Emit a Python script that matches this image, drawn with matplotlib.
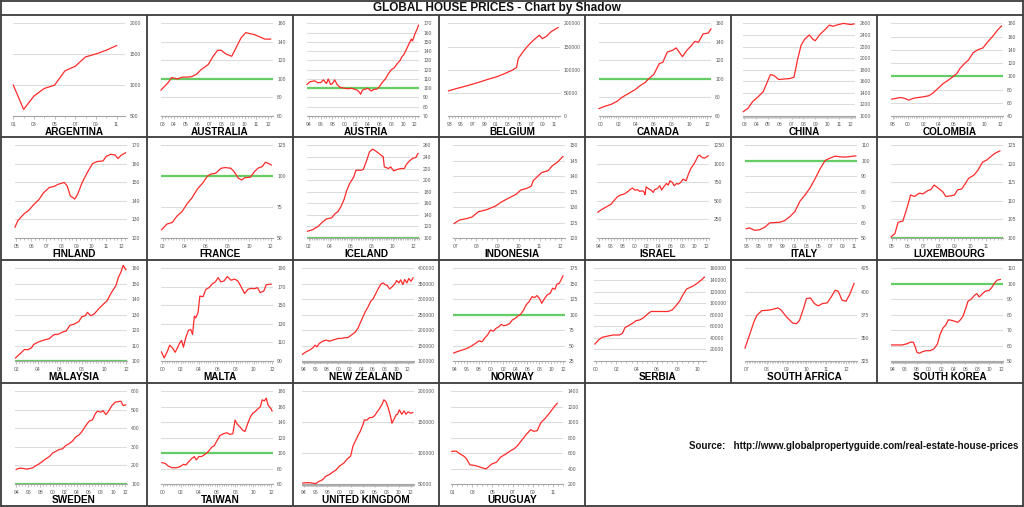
import matplotlib
matplotlib.use('Agg')
import matplotlib.pyplot as plt
from matplotlib.ticker import MultipleLocator

plt.rcParams['font.family'] = ['Liberation Sans', 'DejaVu Sans']

# ---------------- data ----------------
argentina_x = [2001, 2002, 2003, 2004, 2005, 2006, 2007, 2008, 2009, 2010, 2011]
argentina_y = [1000, 607, 823, 946, 1000, 1231, 1306, 1457, 1505, 1565, 1640]

australia_x = [2002.9, 2003.5, 2003.8, 2004.0, 2004.3, 2004.7, 2005.1, 2005.5, 2005.9, 2006.3, 2006.9, 2007.3,
               2007.7, 2008.0, 2008.4, 2008.9, 2009.3, 2009.7, 2010.1, 2010.4, 2010.8, 2011.3, 2011.7, 2012.2]
australia_y = [88, 96, 101.4, 101, 100, 102, 102, 102.5, 105, 110, 115.5, 124,
               131, 131, 127, 124.5, 134.5, 144.6, 150, 149, 148, 145.3, 143, 143]

austria_x = [1993.7, 1994.2, 1995.0, 1995.5, 1996.0, 1996.5, 1997.0, 1997.3, 1997.7, 1998.0, 1998.4, 1998.8,
             1999.3, 2000.0, 2000.7, 2001.2, 2001.7, 2002.2, 2002.6, 2002.8, 2003.1, 2003.6, 2004.0, 2004.4,
             2004.6, 2005.0, 2005.5, 2005.9, 2006.5, 2007.0, 2007.5, 2008.0, 2008.5, 2009.0, 2009.5, 2009.8,
             2010.1, 2010.5, 2011.0, 2011.4, 2011.6, 2012.0, 2012.4, 2012.6]
austria_y = [104, 107, 108, 106, 106, 109, 105, 110, 104, 105, 109, 104,
             101, 100, 99.5, 100, 99, 98, 95.5, 93.5, 98, 99, 100, 98,
             97, 98.5, 99, 101, 106.5, 110, 115.5, 120, 122, 126.5, 130, 134,
             136, 141, 148, 153, 151, 158.5, 164, 168]

belgium_x = [1992.9, 1994.3, 1995.4, 1996.8, 1998.3, 1999.7, 2001.1, 2002.5, 2003.8, 2004.5, 2004.8,
             2005.6, 2006.3, 2007.1, 2007.6, 2008.4, 2008.9, 2009.6, 2010.4, 2011.3, 2011.6]
belgium_y = [54300, 59400, 63000, 68000, 73700, 79500, 84500, 91700, 99000, 104700, 124000,
             138500, 149600, 160000, 166000, 174500, 167000, 172000, 182000, 189000, 191000]

canada_x = [1999.85, 2000.5, 2001.2, 2001.9, 2002.4, 2003.1, 2003.9, 2004.5, 2005.0, 2005.4, 2006.0, 2006.6,
            2007.0, 2007.5, 2008.1, 2008.5, 2009.2, 2009.7, 2010.2, 2010.6, 2011.0, 2011.5, 2012.1, 2012.4]
canada_y = [68, 70.5, 72.5, 76, 80, 84, 88.5, 93, 96, 100, 105, 116.5,
            118, 129, 131, 133.5, 124, 131, 136, 140.6, 139.6, 148.5, 149.6, 154]

china_x = [2002.9, 2003.3, 2003.7, 2004.2, 2004.6, 2004.9, 2005.2, 2005.5, 2005.9, 2006.4, 2006.8, 2007.2, 2007.5,
           2007.8, 2008.1, 2008.5, 2008.8, 2009.0, 2009.4, 2009.8, 2010.2, 2010.5, 2010.9, 2011.4, 2011.7, 2012.0, 2012.3]
china_y = [1075, 1135, 1250, 1340, 1425, 1570, 1715, 1700, 1630, 1640, 1645, 1670, 1975,
           2220, 2325, 2400, 2325, 2300, 2410, 2485, 2570, 2550, 2575, 2600, 2590, 2580, 2590]

colombia_x = [1997.9, 1998.4, 1999.0, 1999.5, 2000.1, 2000.8, 2001.4, 2002.0, 2002.7, 2003.2, 2004.0, 2004.6, 2005.3,
              2005.9, 2006.4, 2006.8, 2007.4, 2007.9, 2008.5, 2009.1, 2009.8, 2010.4, 2011.1, 2011.7, 2012.2]
colombia_y = [65.5, 66.5, 68, 67, 64, 67, 68, 69, 70.5, 74, 82.5, 89, 94.5,
              99.5, 104.5, 112, 119.5, 124.5, 135.5, 140, 143, 152, 161, 170, 176]

finland_x = [2004.9, 2005.1, 2005.5, 2005.8, 2006.2, 2006.5, 2006.8, 2007.2, 2007.5, 2007.8, 2008.2, 2008.4, 2008.6,
             2008.9, 2009.1, 2009.4, 2009.8, 2010.1, 2010.4, 2010.8, 2011.0, 2011.3, 2011.6, 2011.8, 2012.0, 2012.3]
finland_y = [125.9, 129.5, 133, 134.8, 138.4, 140.7, 144.3, 147.3, 147.8, 149, 150, 148, 142.8,
             141, 143.7, 150, 156.2, 160.2, 161.3, 161.6, 164, 165.2, 164.8, 162.9, 164.6, 166]

france_x = [2001.9, 2002.4, 2002.9, 2003.3, 2003.8, 2004.3, 2004.7, 2005.2, 2005.7, 2006.1, 2006.4, 2006.9, 2007.4,
            2007.8, 2008.3, 2008.6, 2009.0, 2009.3, 2009.6, 2010.1, 2010.5, 2010.8, 2011.2, 2011.5, 2011.75, 2012.05]
france_y = [56.7, 61.3, 62.6, 67.5, 71.5, 78.2, 82.3, 89.5, 94.4, 99.7, 101.6, 102.4, 106.5,
            107, 106.5, 103.8, 98.4, 97, 98.9, 99.2, 103.8, 106.5, 107.8, 111.3, 110.5, 109.1]

iceland_x = [2001.9, 2002.4, 2002.9, 2003.3, 2003.7, 2004.2, 2004.5, 2004.8, 2005.1, 2005.4, 2005.6, 2005.9,
             2006.3, 2006.5, 2007.0, 2007.2, 2007.5, 2007.8, 2008.1, 2008.4, 2008.8, 2009.1, 2009.2, 2009.6,
             2009.8, 2010.1, 2010.5, 2010.8, 2011.1, 2011.3, 2011.6, 2011.9, 2012.2, 2012.4]
iceland_y = [111.6, 114.5, 120, 127.2, 133, 134.8, 141.7, 145.8, 155, 167.8, 180.6, 194,
             205.5, 217.1, 217.1, 218.3, 232.8, 249, 253.6, 250, 244.3, 240.3, 222.9, 220,
             222.9, 216, 218.8, 220, 220, 227, 233.4, 237.4, 239.1, 246.1]

indonesia_x = [2006.95, 2007.2, 2007.55, 2007.8, 2008.1, 2008.5, 2008.9, 2009.2, 2009.5, 2009.9,
               2010.1, 2010.4, 2010.6, 2010.7, 2010.9, 2011.1, 2011.4, 2011.6, 2011.85, 2012.1]
indonesia_y = [124.7, 125.8, 126.3, 126.8, 128.5, 129.2, 130.3, 131.7, 132.8, 134.2,
               135.5, 136.1, 136.8, 138.6, 139.9, 141.2, 141.8, 143.4, 144.6, 146.4]

israel_x = [1993.8, 1994.3, 1994.8, 1995.4, 1996.0, 1996.5, 1997.1, 1997.6, 1998.2, 1998.8, 1999.3, 1999.6,
            2000.0, 2000.5, 2000.8, 2001.3, 2001.6, 2001.7, 2001.9, 2002.4, 2002.7, 2003.1, 2003.3, 2003.8,
            2004.2, 2004.5, 2004.9, 2005.3, 2005.6, 2005.9, 2006.3, 2006.6, 2007.0, 2007.3, 2007.7, 2008.1,
            2008.6, 2009.0, 2009.4, 2009.9, 2010.3, 2010.6, 2010.9, 2011.3, 2011.7, 2012.3]
israel_y = [348, 378, 401, 428, 455, 504, 558, 580, 593, 625, 660, 673,
            647, 651, 629, 638, 615, 585, 690, 660, 647, 615, 651, 669,
            705, 647, 696, 736, 714, 772, 750, 705, 736, 727, 750, 795,
            772, 862, 938, 996, 1054, 1108, 1117, 1086, 1077, 1108]

italy_x = [1993.0, 1993.56, 1994.4, 1995.2, 1996.1, 1996.9, 1997.7, 1998.6, 1999.4, 2000.3, 2001.1, 2001.9,
           2002.8, 2003.6, 2004.5, 2005.3, 2006.1, 2007.0, 2007.8, 2008.6, 2009.5, 2010.3, 2011.2]
italy_y = [56, 56.5, 55, 55.3, 57, 59.8, 60, 60.2, 61.3, 64, 67.2, 73.7,
           78, 82.4, 88.9, 95, 100.2, 101.9, 103, 102.6, 102.4, 102.8, 103.2]

luxembourg_x = [2004.95, 2005.2, 2005.4, 2005.6, 2005.7, 2006.0, 2006.2, 2006.45, 2006.75, 2006.98, 2007.3,
                2007.5, 2007.7, 2007.9, 2008.25, 2008.45, 2008.8, 2009.0, 2009.2, 2009.45, 2009.7, 2009.9,
                2010.25, 2010.5, 2010.8, 2011.05, 2011.3, 2011.6, 2011.9]
luxembourg_y = [100.3, 101.2, 104.2, 104.5, 104.5, 108.5, 111.6, 111.2, 112.1, 111.9, 112.8,
                113.1, 114.3, 113.7, 112.5, 111.2, 111.4, 111.6, 113, 113.2, 114.7, 116.1,
                117, 118.3, 120.5, 121, 121.9, 122.9, 123.5]

malaysia_x = [2001.95, 2002.35, 2002.75, 2003.1, 2003.4, 2003.6, 2004.05, 2004.5, 2005.0, 2005.3, 2005.5,
              2005.8, 2006.25, 2006.55, 2006.9, 2007.25, 2007.7, 2008.0, 2008.3, 2008.5, 2008.8, 2009.1,
              2009.5, 2009.9, 2010.3, 2010.6, 2011.1, 2011.3, 2011.55, 2011.75, 2012.0]
malaysia_y = [102, 104.6, 107.4, 107.4, 108.5, 110.7, 112.4, 113.5, 114.4, 116.2, 117.2,
              117.2, 118.8, 119.4, 123.1, 123.8, 125.5, 128.8, 129.3, 131.5, 129.3, 130.4,
              133.6, 136.5, 139.1, 143.4, 148.9, 153.9, 157.6, 162, 159.1]

malta_x = [1999.9, 2000.2, 2000.55, 2000.8, 2001.1, 2001.4, 2001.65, 2001.9, 2002.1, 2002.3, 2002.55, 2002.85,
           2003.1, 2003.3, 2003.5, 2003.65, 2003.9, 2004.1, 2004.45, 2004.75, 2005.1, 2005.5, 2005.8, 2006.1,
           2006.4, 2006.75, 2007.1, 2007.5, 2007.9, 2008.25, 2008.6, 2009.0, 2009.35, 2009.7, 2010.1, 2010.4,
           2010.7, 2011.1, 2011.35, 2011.7, 2011.9]
malta_y = [99.8, 93.3, 100.5, 107.1, 104.2, 99.4, 104.2, 109.6, 112.2, 104.9, 115, 123,
           124.1, 118.7, 138.4, 136.6, 142.1, 160.1, 159.4, 167.3, 169.2, 173.6, 175.4, 180,
           175.4, 176.5, 181.2, 177.2, 178.4, 176.5, 170.4, 162.8, 167.4, 168.4, 168.1, 169.2,
           163.8, 165.6, 172.2, 172.9, 172.9]

nz_x = [1993.8, 1994.4, 1995.0, 1995.6, 1996.0, 1996.3, 1996.7, 1997.3, 1997.9, 1998.5, 1999.0, 1999.6,
        2000.0, 2000.5, 2001.1, 2001.7, 2002.1, 2002.5, 2002.9, 2003.4, 2003.9, 2004.3, 2004.7, 2005.2,
        2005.6, 2006.0, 2006.4, 2006.9, 2007.4, 2007.8, 2008.1, 2008.5, 2008.9, 2009.3, 2009.8, 2010.1,
        2010.5, 2010.8, 2011.2, 2011.5, 2011.9, 2012.2, 2012.6, 2012.95]
nz_y = [121800, 129500, 135000, 142600, 151300, 145600, 156700, 164200, 167500, 164200, 167500, 170700,
        173100, 173100, 175200, 176300, 181800, 187200, 192700, 205700, 227500, 243900, 260300, 276600,
        293000, 300600, 314800, 333300, 349700, 353000, 347500, 344300, 333300, 339800, 349700, 360600,
        353000, 362800, 347500, 363900, 353000, 367100, 358400, 369300]

norway_x = [1993.8, 1994.6, 1995.6, 1996.2, 1996.8, 1997.4, 1998.0, 1998.5, 1998.9, 1999.4, 1999.9, 2000.4, 2000.8,
            2001.3, 2001.7, 2002.1, 2002.6, 2003.1, 2003.5, 2004.0, 2004.5, 2004.9, 2005.4, 2005.8, 2006.3, 2006.8,
            2007.2, 2007.6, 2008.0, 2008.4, 2008.9, 2009.3, 2009.8, 2010.2, 2010.6, 2010.9, 2011.3, 2011.6, 2011.9]
norway_y = [38, 40.8, 44, 46.2, 49.5, 53.3, 57.7, 56.1, 61.5, 66.9, 75, 73.4, 77.7,
            80.5, 84.3, 82.1, 83.2, 85.9, 91.3, 94, 98.4, 100.5, 107.6, 115.7, 121.1, 129.3,
            127.7, 130.9, 126.6, 118.4, 126.6, 132, 134.7, 142.9, 141.2, 149.3, 150.9, 156.3, 162.8]

serbia_x = [1999.9, 2000.25, 2000.6, 2001.2, 2001.7, 2002.3, 2002.6, 2002.85, 2003.2, 2003.6, 2003.95, 2004.3, 2004.7,
            2005.05, 2005.4, 2006.0, 2006.5, 2007.1, 2007.5, 2007.8, 2008.2, 2008.55, 2008.9, 2009.5, 2010.0, 2010.4, 2010.65]
serbia_y = [29300, 36200, 40900, 43200, 44900, 44900, 47700, 57600, 61100, 65100, 69800, 70900, 75000,
            80800, 85500, 85500, 85500, 85500, 88400, 94200, 102900, 114500, 124400, 129100, 134900, 140700, 144800]

safrica_x = [2006.9, 2007.15, 2007.35, 2007.5, 2007.75, 2008.0, 2008.25, 2008.55, 2008.7, 2009.0, 2009.3, 2009.5, 2009.65,
             2009.85, 2010.0, 2010.2, 2010.4, 2010.6, 2010.8, 2011.05, 2011.25, 2011.45, 2011.6, 2011.8, 2012.0, 2012.2, 2012.4]
safrica_y = [339, 354.5, 367.2, 374.4, 379.4, 379.7, 380.5, 382.3, 380.5, 372.5, 366, 365.3, 368.9,
             381.6, 392.4, 393.1, 387, 384.5, 387, 387.8, 394.2, 401.4, 400.4, 390.6, 389.5, 397.8, 408.7]

skorea_x = [1993.8, 1994.6, 1995.5, 1996.3, 1996.9, 1997.4, 1997.7, 1998.0, 1998.4, 1998.9, 1999.5, 2000.2,
            2000.8, 2001.4, 2001.8, 2002.3, 2002.8, 2003.2, 2003.8, 2004.3, 2004.75, 2005.2, 2005.6, 2006.1,
            2006.45, 2006.9, 2007.5, 2007.9, 2008.3, 2008.7, 2009.3, 2009.95, 2010.35, 2010.9, 2011.3, 2011.8]
skorea_y = [60.4, 60.4, 60.4, 61.1, 62.2, 62.2, 59.3, 55.6, 55, 56, 56.7, 56.7,
            57.8, 61.1, 67, 71.3, 73.5, 76.7, 76.3, 75.7, 75, 76.7, 78.9, 84.3,
            88.7, 89.8, 92.4, 93.7, 91.5, 93, 95.2, 95.7, 97.4, 100.7, 102.4, 102.8]

sweden_x = [1994.0, 1994.55, 1995.2, 1995.75, 1996.3, 1996.75, 1997.3, 1997.8, 1998.4, 1998.9, 1999.5, 2000.0,
            2000.6, 2001.1, 2001.65, 2002.2, 2002.7, 2003.3, 2003.8, 2004.4, 2004.9, 2005.5, 2006.05, 2006.6,
            2007.05, 2007.4, 2008.0, 2008.35, 2008.8, 2009.25, 2009.8, 2010.35, 2010.9, 2011.3, 2011.65, 2012.1]
sweden_y = [178.4, 185.6, 183.8, 180.2, 183.8, 187.4, 200, 209, 223.4, 236, 248.6, 266.6,
            277.3, 286.3, 289.9, 307.9, 316.9, 331.3, 352.9, 365.5, 385.3, 415.8, 439.2, 446.4,
            478.8, 493.2, 487.9, 496.4, 474.8, 492.8, 523.4, 541.4, 545, 546.8, 523.4, 527]

taiwan_x = [1999.9, 2000.25, 2000.6, 2001.0, 2001.5, 2001.9, 2002.3, 2002.55, 2002.85, 2003.2, 2003.5, 2003.7,
            2004.0, 2004.3, 2004.7, 2005.05, 2005.4, 2005.7, 2006.0, 2006.35, 2006.7, 2007.1, 2007.45, 2007.75,
            2008.0, 2008.25, 2008.55, 2008.85, 2009.1, 2009.4, 2009.7, 2009.95, 2010.2, 2010.6, 2010.8, 2011.0,
            2011.25, 2011.45, 2011.65, 2012.0, 2012.1]
taiwan_y = [87.7, 86.8, 83.3, 81.1, 81.1, 82.4, 85.5, 84.6, 88.6, 93, 95.6, 91.2,
            95.6, 95.6, 98.7, 102.2, 107.5, 109.7, 116.3, 122.9, 125.1, 126.4, 124.2, 125.1,
            142.7, 137.4, 133.8, 129.5, 128.1, 138.2, 147, 151.4, 153.6, 158, 160, 169,
            167.7, 171.2, 162.4, 157.1, 154.5]

uk_x = [1993.85, 1994.7, 1995.4, 1996.0, 1996.6, 1997.2, 1997.7, 1998.3, 1998.85, 1999.4, 2000.0, 2000.4,
        2000.8, 2001.35, 2001.9, 2002.3, 2002.7, 2003.1, 2003.55, 2004.0, 2004.2, 2004.6, 2005.1, 2005.5,
        2005.9, 2006.3, 2006.7, 2007.2, 2007.5, 2007.85, 2008.2, 2008.6, 2008.85, 2009.2, 2009.55, 2009.8,
        2010.1, 2010.5, 2010.9, 2011.2, 2011.6, 2012.0, 2012.35]
uk_y = [51600, 52200, 51600, 50500, 54300, 57100, 62500, 65200, 69000, 72300, 78800, 81500,
        84200, 90800, 95100, 111400, 119600, 127700, 135900, 146700, 153800, 153300, 157600, 157600,
        160300, 165800, 171200, 179300, 186400, 183200, 173900, 160300, 148400, 154900, 162000, 163000,
        170100, 163000, 168500, 163000, 166800, 164600, 165700]

uruguay_x = [2000.95, 2001.4, 2001.75, 2002.1, 2002.4, 2002.75, 2003.1, 2003.4, 2003.9, 2004.35, 2004.55, 2004.9,
             2005.4, 2005.8, 2006.2, 2006.7, 2007.2, 2007.5, 2007.9, 2008.35, 2008.8, 2009.1, 2009.45, 2009.8,
             2010.2, 2010.7, 2011.2, 2011.45]
uruguay_y = [622, 626, 591, 565, 530, 448, 443, 435, 413, 396, 417, 457,
             483, 548, 578, 622, 661, 697, 765, 840, 904, 882, 891, 991,
             1044, 1122, 1210, 1245]

# x tick labels (two digit years) per panel
argentina_years = ['01', '03', '05', '07', '09', '11']
australia_years = ['03', '04', '05', '06', '07', '08', '09', '10', '11', '12']
austria_years = ['94', '96', '98', '00', '02', '04', '06', '08', '10', '12']
belgium_years = ['93', '95', '97', '99', '01', '03', '05', '07', '09', '11']
canada_years = ['00', '02', '04', '06', '08', '10', '12']
china_years = ['03', '04', '05', '06', '07', '08', '09', '10', '11', '12']
colombia_years = ['98', '00', '02', '04', '06', '08', '10', '12']
finland_years = ['05', '06', '07', '08', '09', '10', '11', '12']
france_years = ['02', '04', '06', '08', '10', '12']
iceland_years = ['02', '04', '06', '08', '10', '12']
indonesia_years = ['07', '08', '09', '10', '11', '12']
israel_years = ['94', '96', '98', '00', '02', '04', '06', '08', '10', '12']
italy_years = ['93', '95', '97', '99', '01', '03', '05', '07', '09', '11']
luxembourg_years = ['05', '06', '07', '08', '09', '10', '11']
malaysia_years = ['02', '04', '06', '08', '10', '12']
malta_years = ['00', '02', '04', '06', '08', '10', '12']
nz_years = ['94', '96', '98', '00', '02', '04', '06', '08', '10', '12']
norway_years = ['94', '96', '98', '00', '02', '04', '06', '08', '10', '12']
serbia_years = ['00', '02', '04', '06', '08', '10']
safrica_years = ['07', '08', '09', '10', '11', '12']
skorea_years = ['94', '96', '98', '00', '02', '04', '06', '08', '10', '12']
sweden_years = ['94', '96', '98', '00', '02', '04', '06', '08', '10', '12']
taiwan_years = ['00', '02', '04', '06', '08', '10', '12']
uk_years = ['94', '96', '98', '00', '02', '04', '06', '08', '10', '12']
uruguay_years = ['01', '03', '05', '07', '09', '11']

# name, x, y, xlim, (ymin, ymax, step), labels, minor tick step, index line at 100, hide lowest label
panels = [
    ('ARGENTINA', argentina_x, argentina_y, (2001, 2011.85), (500, 2000, 500), argentina_years, 1, False, False),
    ('AUSTRALIA', australia_x, australia_y, (2002.9, 2012.4), (60, 160, 20), australia_years, 0.25, True, False),
    ('AUSTRIA', austria_x, austria_y, (1993.7, 2012.7), (70, 170, 10), austria_years, 0.5, True, False),
    ('BELGIUM', belgium_x, belgium_y, (1992.8, 2011.9), (0, 200000, 50000), belgium_years, 0.5, False, False),
    ('CANADA', canada_x, canada_y, (1999.85, 2012.4), (60, 160, 20), canada_years, 0.25, True, False),
    ('CHINA', china_x, china_y, (2002.9, 2012.4), (1000, 2600, 200), china_years, 1 / 12, False, False),
    ('COLOMBIA', colombia_x, colombia_y, (1997.8, 2012.4), (40, 180, 20), colombia_years, 0.25, True, False),
    ('FINLAND', finland_x, finland_y, (2004.9, 2012.4), (120, 170, 10), finland_years, 0.25, False, False),
    ('FRANCE', france_x, france_y, (2001.85, 2012.2), (50, 125, 25), france_years, 0.25, True, False),
    ('ICELAND', iceland_x, iceland_y, (2001.85, 2012.5), (100, 260, 20), iceland_years, 1 / 6, True, False),
    ('INDONESIA', indonesia_x, indonesia_y, (2006.9, 2012.2), (120, 150, 5), indonesia_years, 0.25, False, False),
    ('ISRAEL', israel_x, israel_y, (1993.7, 2012.5), (0, 1250, 250), israel_years, 0.5, False, True),
    ('ITALY', italy_x, italy_y, (1992.8, 2011.4), (50, 110, 10), italy_years, 0.5, True, False),
    ('LUXEMBOURG', luxembourg_x, luxembourg_y, (2004.95, 2012.1), (100, 125, 5), luxembourg_years, 0.25, True, False),
    ('MALAYSIA', malaysia_x, malaysia_y, (2001.9, 2012.1), (100, 160, 10), malaysia_years, 0.25, True, False),
    ('MALTA', malta_x, malta_y, (1999.85, 2012.1), (90, 190, 20), malta_years, 0.25, False, False),
    ('NEW ZEALAND', nz_x, nz_y, (1993.7, 2013.1), (100000, 400000, 50000), nz_years, 1 / 12, False, False),
    ('NORWAY', norway_x, norway_y, (1993.7, 2012.25), (25, 175, 25), norway_years, 0.5, True, False),
    ('SERBIA', serbia_x, serbia_y, (1999.8, 2010.8), (0, 160000, 20000), serbia_years, 0.5, False, True),
    ('SOUTH AFRICA', safrica_x, safrica_y, (2006.9, 2012.55), (325, 425, 25), safrica_years, 1 / 12, False, False),
    ('SOUTH KOREA', skorea_x, skorea_y, (1993.7, 2012.25), (50, 110, 10), skorea_years, 1 / 12, True, False),
    ('SWEDEN', sweden_x, sweden_y, (1993.8, 2012.3), (100, 600, 100), sweden_years, 0.5, True, False),
    ('TAIWAN', taiwan_x, taiwan_y, (1999.8, 2012.2), (60, 180, 20), taiwan_years, 0.25, True, False),
    ('UNITED KINGDOM', uk_x, uk_y, (1993.7, 2012.55), (50000, 200000, 50000), uk_years, 1 / 12, False, False),
    ('URUGUAY', uruguay_x, uruguay_y, (2000.9, 2012.05), (200, 1400, 200), uruguay_years, 0.5, False, False),
]

# ---------------- layout ----------------
W, H = 1024, 507
col_x = [1, 147, 293, 439, 585, 731, 877, 1022]
row_y = [15, 137, 260, 383, 506]

fig = plt.figure(figsize=(W / 100, H / 100), dpi=100)
fig.patch.set_facecolor('white')
bg = fig.add_axes([0, 0, 1, 1])
bg.set_xlim(0, W)
bg.set_ylim(H, 0)
bg.axis('off')

# table borders
line_kw = dict(color='#3a3a3a', lw=1.3, solid_capstyle='butt')
for y in [0.8, row_y[0], row_y[1], row_y[2], row_y[3], row_y[4]]:
    bg.plot([0.8, 1023.2], [y, y], **line_kw)
bg.plot([0.8, 0.8], [0, H], **line_kw)
bg.plot([1023.2, 1023.2], [0, H], **line_kw)
for x in col_x[1:5]:
    bg.plot([x, x], [row_y[0], row_y[4]], **line_kw)
for x in col_x[5:7]:
    bg.plot([x, x], [row_y[0], row_y[3]], **line_kw)

bg.text(497, 7.8, 'GLOBAL HOUSE PRICES - Chart by Shadow', ha='center', va='center',
        fontsize=8.5, fontweight='bold', color='#111111')
bg.text(689, 446, 'Source:   http://www.globalpropertyguide.com/real-estate-house-prices',
        ha='left', va='center', fontsize=7.0, fontweight='bold', color='#111111')


def to_year(label):
    v = int(label)
    return 2000 + v if v < 50 else 1900 + v


def draw_panel(i, name, xs, ys, xlim, yr, xlabels, minor, green, hide_low):
    row, col = divmod(i, 7)
    cx, cy = col_x[col], row_y[row]
    lo, hi, step = yr
    yticks = list(range(lo, hi + 1, step))
    nd = len(str(hi))
    right = cx + 126 - 1.7 * (nd - 3)
    left = right - 112
    top, bottom = cy + 8, cy + 101
    ax = fig.add_axes([left / W, 1 - bottom / H, (right - left) / W, (bottom - top) / H])
    ax.set_facecolor('none')
    ax.set_xlim(*xlim)
    ax.set_ylim(lo, hi + (hi - lo) * 0.004)
    ax.set_yticks(yticks)
    ylab = [str(t) for t in yticks]
    if hide_low:
        ylab[0] = ''
    ax.set_yticklabels(ylab)
    ax.yaxis.tick_right()
    ax.grid(axis='y', color='#dcdcdc', lw=0.8)
    ax.set_axisbelow(True)
    ax.set_xticks([to_year(l) for l in xlabels])
    ax.set_xticklabels(xlabels)
    ax.xaxis.set_minor_locator(MultipleLocator(minor))
    for s in ['top', 'left', 'right']:
        ax.spines[s].set_visible(False)
    ax.spines['bottom'].set_color('#a6a6a6')
    ax.spines['bottom'].set_linewidth(0.8)
    ax.tick_params(axis='y', length=0, pad=3, labelsize=3.6, labelcolor='#595959')
    ax.tick_params(axis='x', which='major', length=2.5, width=0.5, color='#a6a6a6',
                   pad=1.5, labelsize=3.6, labelcolor='#595959')
    ax.tick_params(axis='x', which='minor', length=1.6, width=0.5, color='#a6a6a6')
    if green:
        ax.axhline(100, color='#66cc66', lw=1.6, zorder=2)
    ax.plot(xs, ys, color='#ff2a2a', lw=0.9, zorder=3, clip_on=False)
    bg.text((cx + col_x[col + 1]) / 2, cy + 117, name, ha='center', va='center',
            fontsize=7.2, fontweight='bold', color='black')


for i, p in enumerate(panels):
    draw_panel(i, *p)

fig.savefig('out.png', dpi=100)
